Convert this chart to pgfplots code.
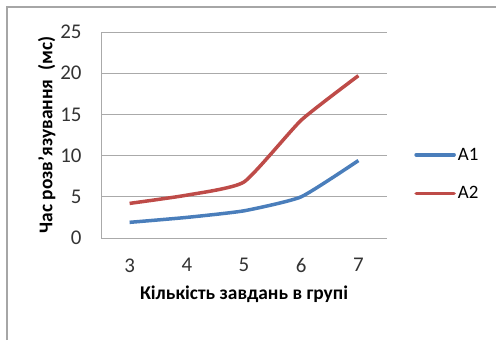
\documentclass[border=0pt]{standalone}
\usepackage{pgfplots}
\pgfplotsset{compat=1.18}
\usepackage{fontspec}
\setmainfont{Carlito}
\definecolor{blueA}{RGB}{74,126,187}
\definecolor{redA}{RGB}{190,75,72}
\definecolor{gridc}{RGB}{170,170,170}
\begin{document}
\begin{tikzpicture}[x=1bp,y=1bp]
\useasboundingbox (0,0) rectangle (496,340);
\draw[gray!70, line width=1.2bp] (7,0) -- (7,333) -- (496,333);
\begin{axis}[
  at={(101bp,102bp)}, anchor=origin,
  scale only axis, width=286bp, height=206bp,
  xmin=2.5, xmax=7.5, ymin=0, ymax=25,
  xtick={3,4,5,6,7},
  extra x ticks={2.5,3.5,4.5,5.5,6.5,7.5},
  extra x tick labels={},
  extra x tick style={major tick length=7bp, tick style={gridc, line width=0.8bp}, grid=none},
  major x tick style={draw=none},
  ytick={0,5,10,15,20,25},
  ymajorgrids, grid style={gridc, line width=0.8bp},
  axis x line*=bottom, axis y line*=left,
  axis line style={gridc, line width=0.8bp},
  y tick style={gridc, line width=0.8bp},
  major tick length=6bp,
  tick label style={font=\fontsize{21}{21}\selectfont, text=black!80},
  yticklabel style={xshift=-16bp},
  xticklabel style={yshift=-17bp},
  /pgf/number format/assume math mode=true,
  xlabel={\textbf{Кількість завдань в групі}},
  ylabel={\textbf{Час розв'язування\ \ (мс)}},
  label style={font=\fontsize{19.5}{19.5}\selectfont},
  xlabel style={yshift=-6bp},
  ylabel style={yshift=-2bp},
  legend style={draw=none, fill=none, at={(1.095,0.31)}, anchor=west, font=\fontsize{19}{19}\selectfont, row sep=21bp, inner xsep=0pt, inner ysep=0pt},
  legend cell align=left,
  legend image code/.code={\draw[#1, line cap=round] (0bp,0bp) -- (38bp,0bp);},
  legend style={/tikz/every even column/.append style={column sep=1bp}},
  clip=false,
]
\addplot[blueA, line width=3.5bp, smooth, tension=0.3] coordinates {(3,1.9) (4,2.5) (5,3.3) (6,5.0) (7,9.4)};
\addlegendentry{A1}
\addplot[redA, line width=3.5bp, smooth, tension=0.3] coordinates {(3,4.2) (4,5.2) (5,6.8) (6,14.3) (7,19.7)};
\addlegendentry{A2}
\end{axis}
\end{tikzpicture}
\end{document}
